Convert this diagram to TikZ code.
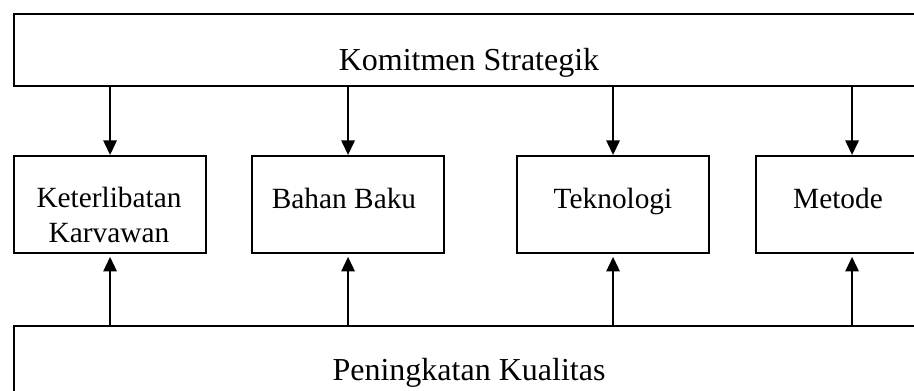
\documentclass[tikz,border=0pt]{standalone}
\usepackage{fontspec}
\setmainfont{Liberation Serif}
\usetikzlibrary{arrows.meta}

\tikzset{every picture/.style={line width=1.6pt}}
\tikzset{
  bar/.style={draw, rectangle, minimum width=684pt, anchor=north west, inner sep=0pt},
  factor/.style={draw, rectangle, minimum width=144pt, minimum height=72.75pt, anchor=north west, inner sep=0pt},
  bigtext/.style={anchor=base, inner sep=0pt, font=\fontsize{24}{28}\selectfont},
  factortext/.style={anchor=base, inner sep=0pt, align=center, font=\fontsize{22}{26.25}\selectfont},
  link/.style={-{Triangle[width=10pt,length=11pt]}}
}

\begin{document}
\begin{tikzpicture}[x=0.75pt,y=0.75pt,yscale=-1,xscale=1]
\useasboundingbox (0,0) rectangle (914,390);

%Shape: Rectangle [id:komitmen]
\node [bar, minimum height=54pt] (komitmen) at (13,13) {};
%Shape: Rectangle [id:kualitas]
\node [bar, minimum height=60pt] (kualitas) at (13,325) {};

%Shape: Rectangle [id:factors]
\node [factor] (keterlibatan) at (13,155) {};
\node [factor] (bahan) at (251,155) {};
\node [factor] (teknologi) at (516,155) {};
\node [factor] (metode) at (755,155) {};

% Text Node
\node [bigtext] (komitmen text) at (469,70) {Komitmen Strategik};
% Text Node
\node [bigtext] (kualitas text) at (469,380) {Peningkatan Kualitas};
% Text Node (base anchor sits on the last line)
\node [factortext] (keterlibatan text) at (109,242) {Keterlibatan\\Karvawan};
% Text Node
\node [factortext] (bahan text) at (344,208) {Bahan Baku};
% Text Node
\node [factortext] (teknologi text) at (613,208) {Teknologi};
% Text Node
\node [factortext] (metode text) at (838,208) {Metode};

%Straight Lines [id:down]
\foreach \f in {keterlibatan,bahan,teknologi,metode}
  \draw [link] (komitmen.south -| \f.north) -- (\f.north);
%Straight Lines [id:up]
\foreach \f in {keterlibatan,bahan,teknologi,metode}
  \draw [link, shorten >=2pt] (kualitas.north -| \f.south) -- (\f.south);

\end{tikzpicture}
\end{document}
